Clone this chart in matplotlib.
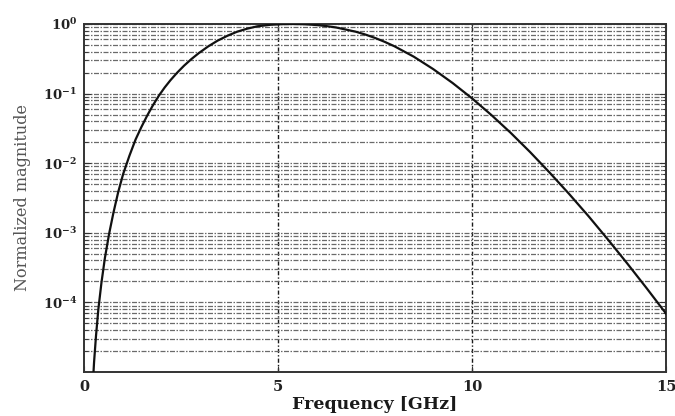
import matplotlib
matplotlib.use("Agg")
import matplotlib.pyplot as plt
from matplotlib.ticker import LogLocator, FixedLocator, FixedFormatter, NullFormatter

plt.rcParams["font.family"] = ["DejaVu Serif"]
plt.rcParams["mathtext.fontset"] = "dejavuserif"

# Normalized spectrum magnitude of the pulse, read at selected frequencies
freq_ghz = [0.22, 0.26, 0.31, 0.37, 0.45, 0.54, 0.65, 0.76, 0.88, 1.01, 1.17,
            1.33, 1.48, 1.63, 1.78, 1.93, 2.08, 2.23, 2.40, 2.58, 2.77, 2.96,
            3.20, 3.44, 3.70, 3.95, 4.20, 4.47, 4.80, 5.10, 5.40, 5.70, 6.00,
            6.25, 6.50, 7.00, 7.25, 7.50, 7.75, 8.00, 8.50, 9.00, 9.50, 10.0,
            10.5, 11.0, 11.5, 12.0, 12.5, 13.0, 13.5, 14.0, 14.5, 15.0]
magnitude = [5.6e-6, 1.38e-5, 3.3e-5, 7.9e-5, 1.91e-4, 4.37e-4, 9.8e-4, 1.95e-3,
             3.8e-3, 7.0e-3, 0.01274, 0.0219, 0.0331, 0.0484, 0.0684, 0.0933,
             0.1225, 0.156, 0.1995, 0.252, 0.314, 0.382, 0.476, 0.575, 0.679,
             0.776, 0.855, 0.927, 0.974, 0.9945, 1.0, 0.991, 0.966, 0.933,
             0.891, 0.776, 0.706, 0.631, 0.554, 0.479, 0.339, 0.225, 0.142,
             0.0855, 0.0492, 0.0272, 0.0144, 0.00733, 0.00363, 0.00174,
             0.000804, 0.000363, 0.000160, 0.000069]

x_ticks = [0, 5, 10, 15]
x_tick_labels = ["0", "5", "10", "15"]
y_ticks = [1e-4, 1e-3, 1e-2, 1e-1, 1e0]
y_tick_labels = [r"$\mathbf{10^{-4}}$", r"$\mathbf{10^{-3}}$", r"$\mathbf{10^{-2}}$",
                 r"$\mathbf{10^{-1}}$", r"$\mathbf{10^{0}}$"]
y_limits = (1e-5, 1.0)

fig = plt.figure(figsize=(6.75, 4.16), dpi=100)
ax = fig.add_axes([0.1244, 0.1058, 0.8623, 0.8365])

ax.semilogy(freq_ghz, magnitude, color="#111111", lw=1.6, zorder=3)
ax.set_xlim(0, 15)
ax.set_ylim(*y_limits)

ax.xaxis.set_major_locator(FixedLocator(x_ticks))
ax.xaxis.set_major_formatter(FixedFormatter(x_tick_labels))
ax.yaxis.set_major_locator(FixedLocator(y_ticks))
ax.yaxis.set_major_formatter(FixedFormatter(y_tick_labels))
ax.yaxis.set_minor_locator(LogLocator(base=10, subs=range(2, 10), numticks=20))
ax.yaxis.set_minor_formatter(NullFormatter())

# grid: dash-dot verticals at the inner x ticks, dashed horizontals at every log step
grid_dash = (0, (4, 1.2, 1.2, 1.2))
for xv in x_ticks[1:-1]:
    ax.axvline(xv, color="#1a1a1a", lw=1.0, ls=(0, (3, 1.5, 1, 1.5)), zorder=1)
ax.yaxis.grid(True, which="both", color="#6a6a6a", lw=0.9, ls=grid_dash, zorder=0)

for sp in ax.spines.values():
    sp.set_linewidth(1.4)
    sp.set_color("#333333")

ax.tick_params(axis="both", which="both", direction="in", right=True, top=True,
               colors="#333333", labelcolor="#222222")
ax.tick_params(axis="y", which="major", length=5, labelsize=9.5, pad=5)
ax.tick_params(axis="y", which="minor", length=3)
ax.tick_params(axis="x", which="major", length=4, labelsize=10.5, pad=6)
for lab in ax.get_xticklabels():
    lab.set_fontweight("bold")

ax.set_xlabel("Frequency [GHz]", fontsize=12.5, fontweight="bold", color="#1a1a1a",
              labelpad=1)
ax.set_ylabel("Normalized magnitude", fontsize=11.5, color="#555555", labelpad=8)

fig.savefig("out.png", dpi=100)
